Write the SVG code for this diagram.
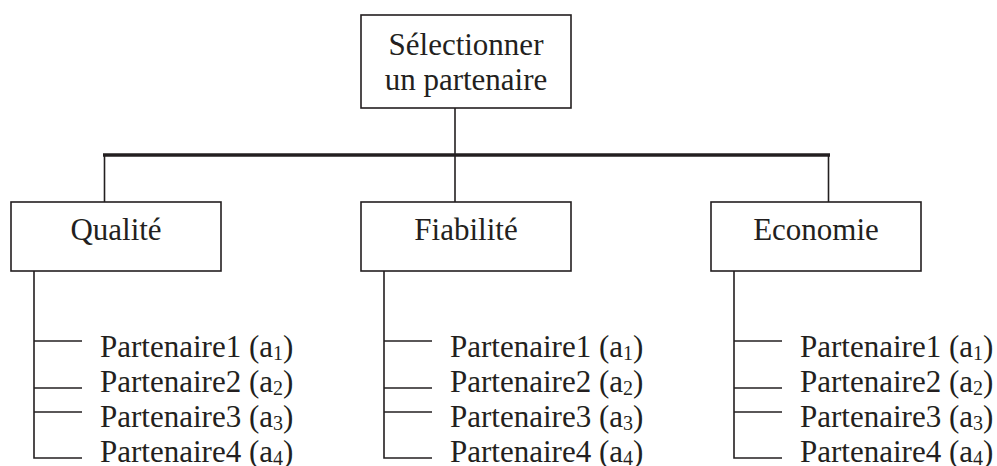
<svg xmlns="http://www.w3.org/2000/svg" width="997" height="466" viewBox="0 0 997 466">
<style>
.box{fill:#fff;stroke:#231f20;stroke-width:1.6}
.ln{stroke:#231f20;stroke-width:1.6;fill:none}
.bar{stroke:#231f20;stroke-width:3.5;fill:none}
.c{text-anchor:middle}
</style>
<rect width="997" height="466" fill="#fff"/>
<g id="connectors">
<line class="ln" x1="455" y1="108" x2="455" y2="202"/>
<line class="bar" x1="103" y1="155" x2="830" y2="155"/>
<line class="ln" x1="104.5" y1="155" x2="104.5" y2="202"/>
<line class="ln" x1="828.5" y1="155" x2="828.5" y2="202"/>
<polyline class="ln" points="34,271 34,458 82,458"/>
<line class="ln" x1="34" y1="341" x2="82" y2="341"/>
<line class="ln" x1="34" y1="388" x2="82" y2="388"/>
<line class="ln" x1="34" y1="412" x2="82" y2="412"/>
<polyline class="ln" points="384,271 384,458 432,458"/>
<line class="ln" x1="384" y1="341" x2="432" y2="341"/>
<line class="ln" x1="384" y1="388" x2="432" y2="388"/>
<line class="ln" x1="384" y1="412" x2="432" y2="412"/>
<polyline class="ln" points="734,271 734,458 782,458"/>
<line class="ln" x1="734" y1="341" x2="782" y2="341"/>
<line class="ln" x1="734" y1="388" x2="782" y2="388"/>
<line class="ln" x1="734" y1="412" x2="782" y2="412"/>
</g>
<g font-family="Liberation Serif, Times New Roman, serif" font-size="31" fill="#231f20">
<g id="root">
<rect class="box" x="361" y="15" width="210" height="93"/>
<text class="c" x="466" y="55">Sélectionner</text>
<text class="c" x="466" y="90">un partenaire</text>
</g>
<g id="qualite">
<rect class="box" x="11" y="202" width="210" height="69"/>
<text class="c" x="116" y="240">Qualité</text>
</g>
<g id="fiabilite">
<rect class="box" x="361" y="202" width="210" height="69"/>
<text class="c" x="466" y="240">Fiabilité</text>
</g>
<g id="economie">
<rect class="box" x="711" y="202" width="210" height="69"/>
<text class="c" x="816" y="240">Economie</text>
</g>
<g id="qualite-items">
<text x="100" y="357">Partenaire1 (a<tspan font-size="20" dy="3">1</tspan><tspan dy="-3">)</tspan></text>
<text x="100" y="392">Partenaire2 (a<tspan font-size="20" dy="3">2</tspan><tspan dy="-3">)</tspan></text>
<text x="100" y="427">Partenaire3 (a<tspan font-size="20" dy="3">3</tspan><tspan dy="-3">)</tspan></text>
<text x="100" y="462">Partenaire4 (a<tspan font-size="20" dy="3">4</tspan><tspan dy="-3">)</tspan></text>
</g>
<g id="fiabilite-items">
<text x="450" y="357">Partenaire1 (a<tspan font-size="20" dy="3">1</tspan><tspan dy="-3">)</tspan></text>
<text x="450" y="392">Partenaire2 (a<tspan font-size="20" dy="3">2</tspan><tspan dy="-3">)</tspan></text>
<text x="450" y="427">Partenaire3 (a<tspan font-size="20" dy="3">3</tspan><tspan dy="-3">)</tspan></text>
<text x="450" y="462">Partenaire4 (a<tspan font-size="20" dy="3">4</tspan><tspan dy="-3">)</tspan></text>
</g>
<g id="economie-items">
<text x="800" y="357">Partenaire1 (a<tspan font-size="20" dy="3">1</tspan><tspan dy="-3">)</tspan></text>
<text x="800" y="392">Partenaire2 (a<tspan font-size="20" dy="3">2</tspan><tspan dy="-3">)</tspan></text>
<text x="800" y="427">Partenaire3 (a<tspan font-size="20" dy="3">3</tspan><tspan dy="-3">)</tspan></text>
<text x="800" y="462">Partenaire4 (a<tspan font-size="20" dy="3">4</tspan><tspan dy="-3">)</tspan></text>
</g>
</g>
</svg>
